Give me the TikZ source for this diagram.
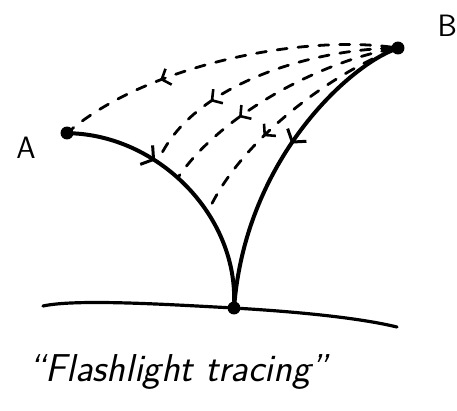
\documentclass[tikz,border=0pt]{standalone}
\usetikzlibrary{arrows.meta,decorations.markings}
\tikzset{
  sol/.style={line width=4pt,line cap=round},
  dsh/.style={line width=2.8pt,dash pattern=on 10pt off 11pt,line cap=round},
  gnd/.style={line width=3.2pt,line cap=round},
  dot/.style={circle,fill=black,inner sep=0pt,minimum size=13pt},
  stip/.style={postaction={decorate,decoration={markings,
      mark=at position #1 with {\arrow[solid,line width=3pt]{Straight Barb[length=3mm,width=8mm]}}}}},
  dtip/.style={postaction={decorate,decoration={markings,
      mark=at position #1 with {\arrow[solid,line width=2.6pt]{Straight Barb[length=2.6mm,width=6mm]}}}}},
  lbl/.style={font=\fontsize{31}{36}\selectfont\sffamily},
  ttl/.style={font=\fontsize{39}{46}\selectfont\sffamily\slshape},
}
\begin{document}
\begin{tikzpicture}[x=1bp,y=-1bp]
  \useasboundingbox (0,0) rectangle (457,410);
  \node[dot] (A) at (67,133) {};
  \node[dot] (B) at (398,48) {};
  \node[dot] (C) at (234,308) {};
  \node[lbl] (la) at (26,148) {A};
  \node[lbl,anchor=west] (lb) at (434,26) {B};
  \coordinate (gl) at (43,306);
  \coordinate (gr) at (397,327);
  \draw[gnd] (gl) .. controls (75,299) and (160,304) .. (C)
                  .. controls (300,312) and (360,318) .. (gr);
  \draw[sol,stip=.34] (A) .. controls (160,138) and (236,215)
        .. coordinate[pos=.35] (p2) coordinate[pos=.45] (p3)
           coordinate[pos=.63] (p4) (C);
  \draw[sol,stip=.45] (B) .. controls (345,70) and (248,160) .. (C);
  \draw[dsh,dtip=.7]  (B) .. controls (300,35) and (150,65) .. (A);
  \draw[dsh,dtip=.7]  (B) .. controls (310,50) and (190,85) .. (p2);
  \draw[dsh,dtip=.66] (B) .. controls (320,62) and (220,115) .. (p3);
  \draw[dsh,dtip=.62] (B) .. controls (330,75) and (240,140) .. (p4);
  \node[ttl,anchor=base west] (ttl) at (25,381) {``Flashlight tracing''};
\end{tikzpicture}
\end{document}
